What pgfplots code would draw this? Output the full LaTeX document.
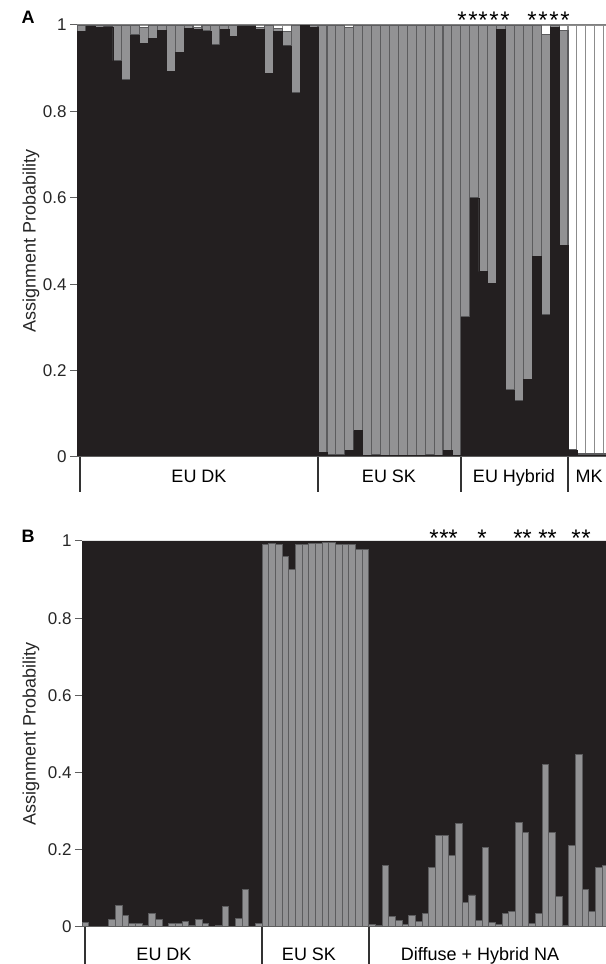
\documentclass[border=0pt]{standalone}
\usepackage{fontspec}
\setmainfont{Liberation Sans}
\usepackage{pgfplots}
\usepackage{pgfplotstable}
\pgfplotsset{compat=1.18}

\definecolor{strblack}{RGB}{35,31,32}
\definecolor{strgray}{RGB}{146,146,148}
\definecolor{stredge}{RGB}{92,92,94}
\definecolor{axisgray}{RGB}{95,95,95}

\newcommand\lblfont{\fontsize{18bp}{20bp}\selectfont}

% panel A: k1 = black (bottom), k2 = gray, k3 = white (top)
\pgfplotstableread{
i k1 k2 k3
0 0.985 0.015 0
1 0.998 0.002 0
2 0.995 0.005 0
3 0.996 0.004 0
4 0.917 0.083 0
5 0.873 0.127 0
6 0.977 0.023 0
7 0.957 0.038 0.005
8 0.969 0.031 0
9 0.988 0.012 0
10 0.892 0.108 0
11 0.937 0.063 0
12 0.992 0.008 0
13 0.990 0.005 0.005
14 0.986 0.014 0
15 0.954 0.046 0
16 0.990 0.010 0
17 0.973 0.027 0
18 0.998 0.002 0
19 0.998 0.002 0
20 0.990 0.004 0.006
21 0.888 0.112 0
22 0.985 0.007 0.008
23 0.952 0.033 0.015
24 0.843 0.157 0
25 0.999 0.001 0
26 0.995 0.005 0
27 0.010 0.990 0
28 0.005 0.995 0
29 0.005 0.995 0
30 0.016 0.979 0.005
31 0.061 0.939 0
32 0.003 0.997 0
33 0.005 0.995 0
34 0.003 0.997 0
35 0.003 0.997 0
36 0.003 0.997 0
37 0.003 0.997 0
38 0.004 0.996 0
39 0.005 0.995 0
40 0.003 0.997 0
41 0.016 0.984 0
42 0.003 0.997 0
43 0.324 0.676 0
44 0.600 0.400 0
45 0.429 0.571 0
46 0.402 0.598 0
47 0.990 0.010 0
48 0.155 0.845 0
49 0.130 0.870 0
50 0.180 0.820 0
51 0.464 0.536 0
52 0.329 0.648 0.023
53 0.995 0.005 0
54 0.490 0.498 0.012
55 0.015 0.003 0.982
56 0.004 0.003 0.993
57 0.004 0.003 0.993
58 0.004 0.003 0.993
59 0.004 0.003 0.993
}\panelA

% panel B: gray (bottom), black (top)
\pgfplotstableread{
i gray black
0 0.012 0.988
1 0 1
2 0 1
3 0 1
4 0.020 0.980
5 0.055 0.945
6 0.030 0.970
7 0.008 0.992
8 0.008 0.992
9 0.004 0.996
10 0.036 0.964
11 0.020 0.980
12 0.002 0.998
13 0.010 0.990
14 0.008 0.992
15 0.015 0.985
16 0.003 0.997
17 0.019 0.981
18 0.008 0.992
19 0.002 0.998
20 0.003 0.997
21 0.052 0.948
22 0.002 0.998
23 0.021 0.979
24 0.098 0.902
25 0.002 0.998
26 0.008 0.992
27 0.990 0.010
28 0.994 0.006
29 0.990 0.010
30 0.961 0.039
31 0.925 0.075
32 0.990 0.010
33 0.990 0.010
34 0.994 0.006
35 0.994 0.006
36 0.996 0.004
37 0.996 0.004
38 0.990 0.010
39 0.990 0.010
40 0.990 0.010
41 0.979 0.021
42 0.979 0.021
43 0.007 0.993
44 0.003 0.997
45 0.159 0.841
46 0.028 0.972
47 0.018 0.982
48 0.007 0.993
49 0.031 0.969
50 0.014 0.986
51 0.035 0.965
52 0.154 0.846
53 0.236 0.764
54 0.236 0.764
55 0.185 0.815
56 0.267 0.733
57 0.063 0.937
58 0.083 0.917
59 0.017 0.983
60 0.206 0.794
61 0.011 0.989
62 0.007 0.993
63 0.035 0.965
64 0.039 0.961
65 0.271 0.729
66 0.246 0.754
67 0.009 0.991
68 0.035 0.965
69 0.420 0.580
70 0.246 0.754
71 0.080 0.920
72 0.005 0.995
73 0.212 0.788
74 0.446 0.554
75 0.098 0.902
76 0.039 0.961
77 0.154 0.846
78 0.159 0.841
}\panelB

\pgfplotsset{
  structure/.style={
    scale only axis,
    ybar stacked,
    bar width=1,
    hide x axis,
    axis y line*=left,
    y axis line style={axisgray, line width=1bp},
    ymin=0, ymax=1,
    ytick={0,0.2,0.4,0.6,0.8,1},
    tick align=outside,
    major tick length=7bp,
    ytick style={axisgray, line width=1bp},
    yticklabel style={font=\fontsize{17bp}{17bp}\selectfont, text=black!85},
    /pgf/number format/assume math mode=true,
    ylabel={Assignment Probability},
    ylabel style={font=\lblfont, text=black!85, anchor=center},
  },
}

\begin{document}
\begin{tikzpicture}
\useasboundingbox (0,0) rectangle (606bp,964bp);

% ---------------- panel A
\begin{axis}[structure,
    at={(77bp,507bp)}, anchor=south west,
    width=529bp, height=432bp,
    xmin=-0.5, xmax=58.76,
    ylabel style={at={(axis description cs:-0.087,0.5)}},
  ]
  \addplot[fill=strblack, draw=strblack, line width=0.4bp] table[x=i, y=k1] {\panelA};
  \addplot[fill=strgray, draw=stredge, line width=1.1bp] table[x=i, y=k2] {\panelA};
  \addplot[fill=white, draw=black!45, line width=1.1bp] table[x=i, y=k3] {\panelA};
\end{axis}
\draw[black!50, line width=1bp] (77bp,939bp) -- (606bp,939bp);

% ---------------- panel B
\begin{axis}[structure,
    at={(82bp,37bp)}, anchor=south west,
    width=524bp, height=386bp,
    xmin=-0.5, xmax=78.1,
    ylabel style={at={(axis description cs:-0.0973,0.5)}},
  ]
  \addplot[fill=strgray, draw=stredge, line width=0.9bp] table[x=i, y=gray] {\panelB};
  \addplot[fill=strblack, draw=strblack, line width=0.4bp] table[x=i, y=black] {\panelB};
\end{axis}

% group boxes, panel A
\draw[axisgray, line width=1bp] (77bp,507bp) -- (606bp,507bp);
\foreach \xx in {80,318,461,568}
  \draw[black!80, line width=1.6bp] (\xx bp,507bp) -- (\xx bp,472bp);
\node[font=\lblfont, anchor=base] at (199bp,481bp) {EU DK};
\node[font=\lblfont, anchor=base] at (389bp,481bp) {EU SK};
\node[font=\lblfont, anchor=base] at (514bp,481bp) {EU Hybrid};
\node[font=\lblfont, anchor=base] at (589bp,481bp) {MK};

% group boxes, panel B
\draw[axisgray, line width=1bp] (82bp,37bp) -- (606bp,37bp);
\foreach \xx in {85,262,369}
  \draw[black!80, line width=1.6bp] (\xx bp,37bp) -- (\xx bp,0bp);
\node[font=\lblfont, anchor=base] at (164bp,4bp) {EU DK};
\node[font=\lblfont, anchor=base] at (309bp,4bp) {EU SK};
\node[font=\lblfont, anchor=base] at (480bp,4bp) {Diffuse + Hybrid NA};

% panel letters
\node[font=\fontsize{18bp}{20bp}\selectfont\bfseries] at (28bp,947bp) {A};
\node[font=\fontsize{18bp}{20bp}\selectfont\bfseries] at (28bp,428bp) {B};

% asterisks
\foreach \xx in {462,473,483,494,505,532,543,554,565}
  \node[font=\fontsize{24bp}{24bp}\selectfont, anchor=base, inner sep=0pt] at (\xx bp,935bp) {*};
\foreach \xx in {434,444,453,482,518,527,543,552,576,586}
  \node[font=\fontsize{24bp}{24bp}\selectfont, anchor=base, inner sep=0pt] at (\xx bp,417bp) {*};
\end{tikzpicture}
\end{document}
